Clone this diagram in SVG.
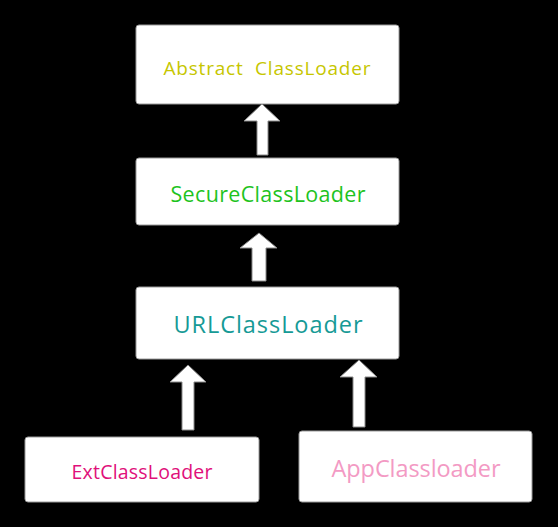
<svg xmlns="http://www.w3.org/2000/svg" width="558" height="527" viewBox="0 0 558 527">
<style>
.box{fill:#fff;stroke:#9a9a9a;stroke-width:1}
.arr{fill:#fff;stroke:#8a8a8a;stroke-width:1}
text{font-family:"Open Sans","Noto Sans","DejaVu Sans",sans-serif;text-anchor:middle;white-space:pre}
</style>
<rect width="558" height="527" fill="#000"/>
<g id="abstract">
<rect class="box" x="136" y="25" width="263" height="79" rx="3"/>
<text x="267" y="75" font-size="19" fill="#c6c600" textLength="207" xml:space="preserve">Abstract  ClassLoader</text>
</g>
<g id="secure">
<rect class="box" x="136" y="158" width="263" height="67" rx="3"/>
<text x="268" y="202" font-size="21.5" fill="#1ec31e" textLength="195">SecureClassLoader</text>
</g>
<g id="url">
<rect class="box" x="136" y="287" width="263" height="72" rx="3"/>
<text x="268" y="333" font-size="23.5" fill="#169a96" textLength="189">URLClassLoader</text>
</g>
<g id="ext">
<rect class="box" x="25" y="437" width="234" height="65" rx="3"/>
<text x="142" y="479" font-size="19.5" fill="#e0107a" textLength="141">ExtClassLoader</text>
</g>
<g id="app">
<rect class="box" x="299" y="431" width="233" height="71" rx="3"/>
<text x="416" y="477" font-size="23.5" fill="#f39ac4" textLength="169">AppClassloader</text>
</g>
<g id="connectors">
<polygon class="arr" points="262,104 280,121 268,121 268,155 257,155 257,121 244,121"/>
<polygon class="arr" points="259,233 277,248 266,248 266,281 252,281 252,248 240,248"/>
<polygon class="arr" points="188,365 206,382 194,382 194,430 182,430 182,382 170,382"/>
<polygon class="arr" points="359,360 377,377 365,377 365,427 353,427 353,377 340,377"/>
</g>
</svg>
